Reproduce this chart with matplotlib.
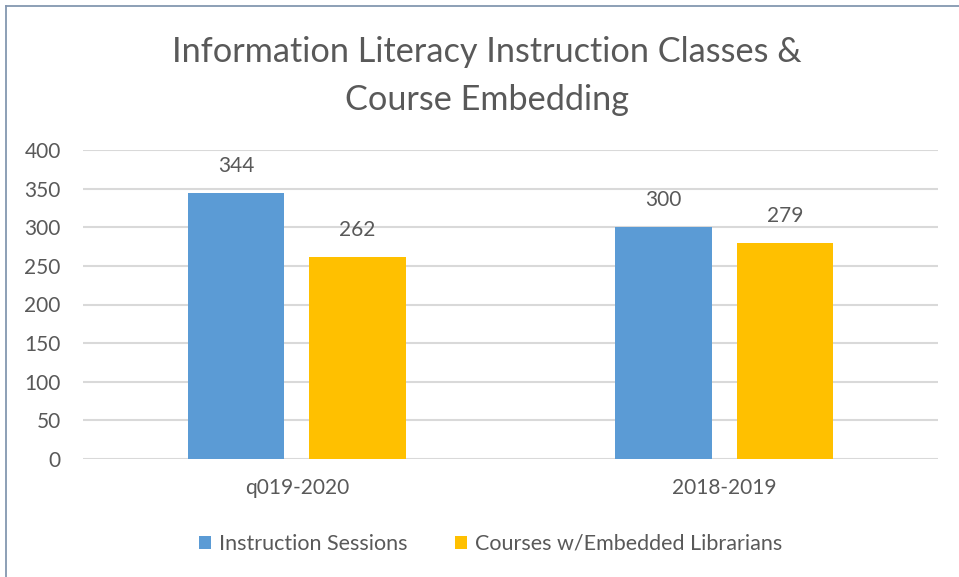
import matplotlib
matplotlib.use("Agg")
import matplotlib.pyplot as plt
import numpy as np
from matplotlib.lines import Line2D
from matplotlib.patches import Patch

categories = ["q019-2020", "2018-2019"]
series_names = ["Instruction Sessions", "Courses w/Embedded Librarians"]
instruction = [344, 300]
embedded = [262, 279]
yticks = [0, 50, 100, 150, 200, 250, 300, 350, 400]
title = "Information Literacy Instruction Classes &\nCourse Embedding"

colors = ["#5B9BD5", "#FFC000"]
txt = "#595959"
plt.rcParams['font.family'] = ['Lato', 'DejaVu Sans']

W, H = 959, 577
fig = plt.figure(figsize=(W/100, H/100), dpi=100)
ax = fig.add_axes([83/W, 1-459/H, (938-83)/W, (459-150)/H])

x = np.arange(len(categories))
bw = 0.225
off = 0.142
b1 = ax.bar(x - off, instruction, bw, color=colors[0], zorder=3)
b2 = ax.bar(x + off, embedded, bw, color=colors[1], zorder=3)
for bars, vals in ((b1, instruction), (b2, embedded)):
    for r, v in zip(bars, vals):
        ax.annotate(str(v), (r.get_x() + r.get_width()/2, v), xytext=(0, 27),
                    textcoords="offset pixels", ha="center", va="center",
                    fontsize=15, color=txt)

ax.set_xlim(-0.5, len(categories) - 0.5)
ax.set_ylim(0, 400)
ax.set_yticks(yticks)
ax.set_yticklabels([str(t) for t in yticks])
ax.set_xticks(x)
ax.set_xticklabels(categories)
ax.tick_params(axis='both', length=0, labelsize=15, labelcolor=txt)
ax.tick_params(axis='y', pad=16)
ax.tick_params(axis='x', pad=14)
ax.grid(axis='y', color="#D9D9D9", linewidth=1.5, zorder=0)
for s in ax.spines.values():
    s.set_visible(False)

fig.text(487/W, 1-76/H, title, ha="center", va="center", fontsize=24.7,
         color=txt, linespacing=1.65)

handles = [Patch(facecolor=c, edgecolor='none') for c in colors]
fig.legend(handles, series_names, loc="center", bbox_to_anchor=(491/W, 1-544/H),
           ncol=2, frameon=False, fontsize=15.5, labelcolor=txt,
           handlelength=0.56, handleheight=0.56, handletextpad=0.37,
           columnspacing=2.2, borderpad=0, borderaxespad=0)

# border (top and left)
fig.add_artist(Line2D([6/W, 6/W], [0, 1-6/H], transform=fig.transFigure,
                      color="#8497B0", linewidth=1.3))
fig.add_artist(Line2D([6/W, 1], [1-6/H, 1-6/H], transform=fig.transFigure,
                      color="#8497B0", linewidth=1.3))

fig.savefig("out.png", dpi=100, facecolor="white")
